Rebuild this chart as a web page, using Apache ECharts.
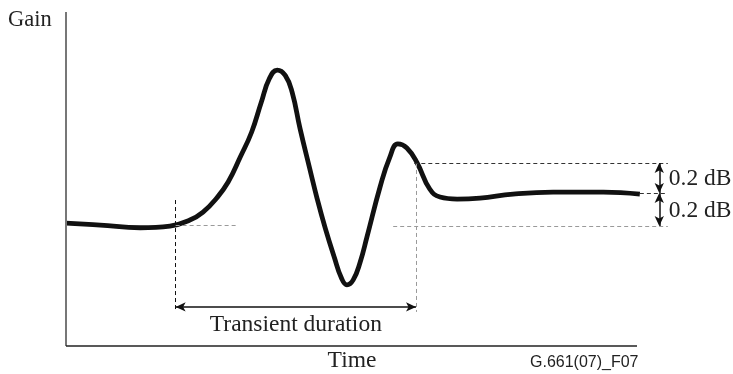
<!DOCTYPE html>
<html>
<head>
<meta charset="utf-8">
<script src="https://cdn.jsdelivr.net/npm/echarts@6/dist/echarts.min.js"></script>
<style>
  html, body { margin: 0; padding: 0; background: #fff; }
  #chart { width: 733px; height: 374px; }
</style>
</head>
<body>
<div id="chart"></div>
<script>
// relative units along the drawn axes (0..100)
const timePts = [0, 6.0, 13.0, 18.2, 21.7, 24.0, 26.4, 28.4, 30.5, 32.5, 34.2, 35.6, 37.0, 38.4, 39.6, 41.0, 42.7, 44.0, 45.4, 47.0, 48.2, 49.2, 50.3, 51.5, 52.7, 55.0, 56.7, 58.1, 59.7, 61.5, 63.7, 65.5, 68.5, 72.5, 78.3, 85.3, 94.1, 100.5];
const gainPts = [36.8, 36.2, 35.4, 35.9, 37.7, 40.1, 44.3, 49.1, 56.5, 64.0, 73.0, 80.0, 82.6, 81.0, 76.0, 65.0, 53.0, 44.0, 35.3, 26.5, 20.5, 18.3, 19.8, 25.0, 32.6, 47.6, 56.5, 60.5, 59.3, 54.8, 47.0, 44.6, 44.0, 44.3, 45.5, 46.1, 46.1, 45.5];

const startLevel = 35.9;   // gain before the transient
const finalLevel = 45.8;   // settled gain
const upperLevel = 54.8;   // settled gain + 0.2 dB
const tStart = 19.2;
const tEnd = 61.3;
const arrowY = 11.7;
const dimX = 103.9;        // x of the 0.2 dB arrows
const guideEnd = 105.4;

const bandLabel = '0.2 dB';
const durationLabel = 'Transient duration';

const gray = '#9a9a9a';
const dark = '#333';

const chart = echarts.init(document.getElementById('chart'), null, { renderer: 'canvas' });

const dashed = (from, to, color) => [
  { coord: from, symbol: 'none', lineStyle: { color: color, type: [4, 3], width: 1 } },
  { coord: to, symbol: 'none' }
];
const arrow = (from, to) => [
  { coord: from, symbol: 'arrow', symbolSize: [7, 10], lineStyle: { color: '#111', type: 'solid', width: 1.5 } },
  { coord: to, symbol: 'arrow', symbolSize: [7, 10] }
];
const solid = (from, to, color, w) => [
  { coord: from, symbol: 'none', lineStyle: { color: color, type: 'solid', width: w } },
  { coord: to, symbol: 'none' }
];

const option = {
  animation: false,
  grid: { left: 66, right: 38.9, top: 12, bottom: 28 },
  xAxis: {
    type: 'value', min: 0, max: 110,
    axisLine: { show: false }, axisTick: { show: false },
    axisLabel: { show: false }, splitLine: { show: false }
  },
  yAxis: {
    type: 'value', min: 0, max: 100,
    axisLine: { show: false }, axisTick: { show: false },
    axisLabel: { show: false }, splitLine: { show: false }
  },
  series: [
    {
      type: 'line',
      data: timePts.map((t, i) => [t, gainPts[i]]),
      smooth: 0.45,
      showSymbol: false,
      clip: false,
      lineStyle: { color: '#111', width: 4.8 },
      z: 3
    },
    {
      type: 'line',
      data: [],
      silent: true,
      markLine: {
        silent: true,
        animation: false,
        label: { show: false },
        emphasis: { disabled: true },
        data: [
          solid([0, 0], [0, 100], '#777', 2),
          solid([0, 0], [100, 0], '#222', 1.5),
          dashed([tStart - 0.1, 43.7], [tStart - 0.1, arrowY - 1.5], '#111'),
          dashed([tEnd, upperLevel], [tEnd, arrowY - 1.5], gray),
          dashed([tStart, 36.2], [29.9, 36.2], gray),
          dashed([61.0, upperLevel], [guideEnd, upperLevel], dark),
          dashed([100.5, finalLevel], [guideEnd, finalLevel], dark),
          dashed([57.3, startLevel], [guideEnd, startLevel], gray),
          arrow([tStart, arrowY], [tEnd, arrowY]),
          arrow([dimX, upperLevel], [dimX, finalLevel]),
          arrow([dimX, finalLevel], [dimX, startLevel])
        ]
      }
    }
  ]
};
chart.setOption(option);

const px = (x, y) => chart.convertToPixel({ gridIndex: 0 }, [x, y]);
const serif = '"Liberation Serif", "Times New Roman", serif';
const txt = (x, y, s, align, font, size) => ({
  type: 'text', x: x, y: y, silent: true,
  style: { text: s, fill: '#222', font: size + 'px ' + font, textAlign: align, textVerticalAlign: 'middle' }
});

const b1 = px(guideEnd, (upperLevel + finalLevel) / 2);
const b2 = px(guideEnd, (finalLevel + startLevel) / 2);
const dur = px((tStart + tEnd) / 2, arrowY);

chart.setOption({
  graphic: [
    txt(8, 20, 'Gain', 'left', serif, 22.5),
    txt(352, 361, 'Time', 'center', serif, 23.5),
    txt(530, 363, 'G.661(07)_F07', 'left', '"Liberation Sans", Arial, sans-serif', 16),
    txt(b1[0] + 1, b1[1] + 1, bandLabel, 'left', serif, 23.5),
    txt(b2[0] + 1, b2[1] + 1, bandLabel, 'left', serif, 23.5),
    txt(dur[0], dur[1] + 18, durationLabel, 'center', serif, 23.5)
  ]
});
</script>
</body>
</html>
